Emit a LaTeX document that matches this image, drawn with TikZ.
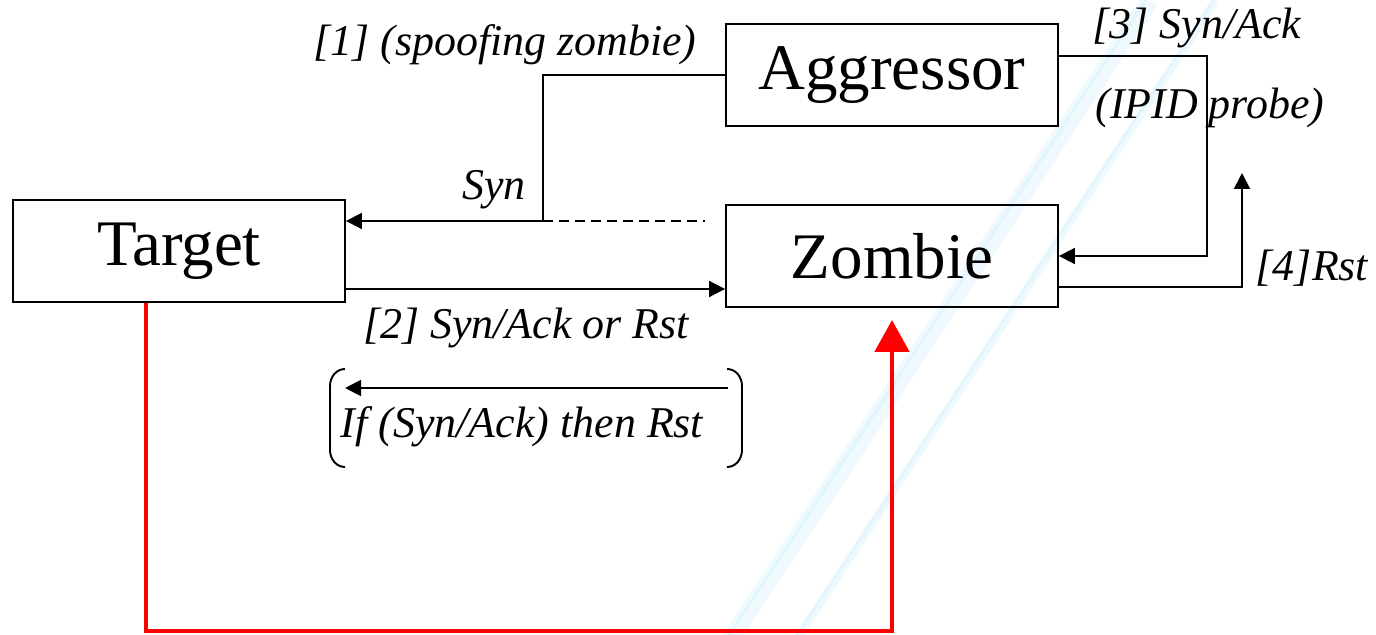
\documentclass[tikz,border=0pt]{standalone}
\usepackage{fontspec}
\setmainfont{Liberation Serif}
\usetikzlibrary{arrows.meta}

\tikzset{
  box/.style={draw, line width=1.1pt, minimum width=6.64cm, minimum height=2.04cm,
    inner sep=0pt, font=\fontsize{37}{40}\selectfont},
  lbl/.style={inner sep=0pt, font=\fontsize{25}{28}\selectfont\itshape},
  msg/.style={line width=1.1pt, -{Triangle[length=0.32cm,width=0.32cm]}},
  paren/.style={line width=1.1pt},
}

\begin{document}
\begin{tikzpicture}[x=0.02cm, y=-0.02cm]
  \useasboundingbox (0,0) rectangle (1376,635);

  % faint background streaks
  \foreach \x/\w/\c in {1150/18/6, 1146/3/12, 1216/8/7, 1214/2/12}
    \draw[cyan!\c, line width=\w*0.02cm] (\x,0) -- (\x-420,640);

  \node[box] (target)    at (179,251) {Target};
  \node[box] (aggressor) at (892,75)  {Aggressor};
  \node[box] (zombie)    at (892,256) {Zombie};

  % [1] spoofed syn
  \coordinate (spoof) at (543,221);
  \coordinate (hidden) at (705,221);
  \draw[msg] (aggressor.west) -| (spoof) -- (spoof -| target.east);
  \draw[line width=1.1pt, dash pattern=on 0.2cm off 0.12cm] (spoof) -- (hidden);
  \node[lbl] (l1)   at (505,45)  {[1] (spoofing zombie)};
  \node[lbl] (lsyn) at (494,190) {Syn};

  % [2] answer to zombie
  \draw[msg] ([yshift=-0.76cm]target.east) coordinate (t2) -- (zombie.west |- t2);
  \node[lbl] (l2) at (526,328) {[2] Syn/Ack or Rst};

  \coordinate (br) at (728,388);
  \coordinate (bl) at (345,388);
  \draw[msg] (br) -- (bl);
  \draw[paren] (345,369) to[out=180,in=90] (330,386) -- (330,450) to[out=-90,in=180] (345,467);
  \draw[paren] (727,369) to[out=0,in=90] (742,386) -- (742,450) to[out=-90,in=0] (727,467);
  \node[lbl] (lif) at (522,427) {If (Syn/Ack) then Rst};

  % [3] probe and [4] reply
  \coordinate (probe) at (1207,256);
  \draw[msg] ([yshift=0.38cm]aggressor.east) -| (probe) -- (zombie.east);
  \node[lbl] (l3)    at (1197,28)  {[3] Syn/Ack};
  \node[lbl] (lipid) at (1210,108) {(IPID probe)};

  \coordinate (rst) at (1242,173);
  \draw[msg] ([yshift=-0.62cm]zombie.east) -| (rst);
  \node[lbl] (l4) at (1312,268) {[4]Rst};

  % real path
  \coordinate (corner) at (892,631);
  \draw[red, line width=2.8pt, -{Triangle[length=0.64cm,width=0.68cm]}, shorten >=0.24cm]
    ([xshift=-0.66cm]target.south) |- (corner) -- (zombie.south);
\end{tikzpicture}
\end{document}
